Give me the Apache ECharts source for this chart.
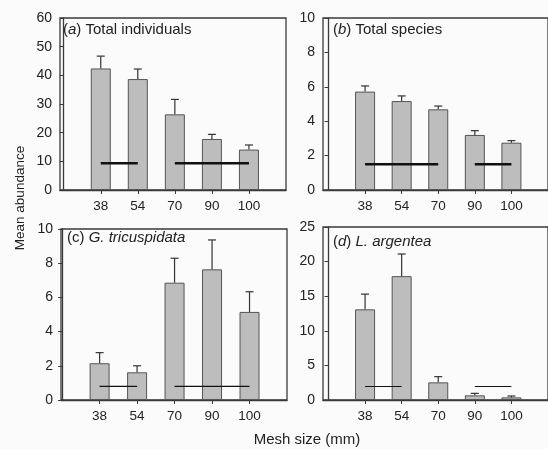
<!DOCTYPE html>
<html>
<head>
<meta charset="utf-8">
<script src="https://cdn.jsdelivr.net/npm/echarts@6/dist/echarts.min.js"></script>
<style>
  html, body { margin: 0; padding: 0; background: #fbfbfb; }
  #chart { width: 548px; height: 449px; }
</style>
</head>
<body>
<div id="chart"></div>
<script>
// Mesh sizes (mm) shown on every x axis
const meshSizes = ['38', '54', '70', '90', '100'];

// Mean abundance and standard error per mesh size
const individualsMean = [42.4, 38.7, 26.4, 17.8, 14.1];
const individualsSE   = [4.3, 3.5, 5.2, 1.6, 1.6];
const speciesMean     = [5.72, 5.17, 4.69, 3.2, 2.75];
const speciesSE       = [0.33, 0.3, 0.19, 0.25, 0.12];
const tricuspidataMean = [2.15, 1.62, 6.86, 7.64, 5.15];
const tricuspidataSE   = [0.62, 0.38, 1.43, 1.72, 1.18];
const argenteaMean    = [13.1, 17.9, 2.55, 0.67, 0.38];
const argenteaSE      = [2.2, 3.2, 0.82, 0.29, 0.2];

// Homogeneous groups: [first mesh index, last mesh index] (1-based) and line level
const individualsGroups = [[1, 2], [3, 5]];
const individualsGroupLevel = 9.3;
const speciesGroups = [[1, 3], [4, 5]];
const speciesGroupLevel = 1.5;
const tricuspidataGroups = [[1, 2], [3, 5]];
const tricuspidataGroupLevel = 0.8;
const argenteaGroups = [[1, 2], [4, 5]];
const argenteaGroupLevel = 1.95;

// Y-axis scales for each panel
const yMax = [60, 10, 10, 25];
const yStep = [10, 2, 2, 5];

const panels = [
  { mean: individualsMean, se: individualsSE, groups: individualsGroups, level: individualsGroupLevel,
    grid: { left: 60, top: 18, width: 226, height: 172 }, xMin: -0.1, xMax: 6, groupWidth: 2.5,
    label: { pre: '(', it: 'a', post: ') Total individuals' }, labelPos: [63, 22] },
  { mean: speciesMean, se: speciesSE, groups: speciesGroups, level: speciesGroupLevel,
    grid: { left: 323, top: 18, width: 230, height: 172 }, xMin: -0.15, xMax: 6, groupWidth: 2.5,
    label: { pre: '(', it: 'b', post: ') Total species' }, labelPos: [333, 22] },
  { mean: tricuspidataMean, se: tricuspidataSE, groups: tricuspidataGroups, level: tricuspidataGroupLevel,
    grid: { left: 61, top: 229, width: 226, height: 171 }, xMin: -0.03, xMax: 6, groupWidth: 1.2,
    label: { pre: '(c) ', it: 'G. tricuspidata', post: '' }, labelPos: [67, 230] },
  { mean: argenteaMean, se: argenteaSE, groups: argenteaGroups, level: argenteaGroupLevel,
    grid: { left: 323, top: 227, width: 230, height: 173 }, xMin: -0.15, xMax: 6, groupWidth: 1.2,
    label: { pre: '(', it: 'd', post: ') ', tail: 'L. argentea' }, labelPos: [333, 234] }
];

const font = 'Liberation Sans, Arial, Helvetica, sans-serif';
const axisColor = '#3a3a3a';
const textColor = '#222';

const grids = [], xAxes = [], yAxes = [], series = [], graphics = [];

panels.forEach((p, i) => {
  grids.push(Object.assign({ show: true, borderColor: axisColor, borderWidth: 1.3,
    backgroundColor: 'transparent' }, p.grid));

  xAxes.push({
    type: 'value', gridIndex: i, min: p.xMin, max: p.xMax,
    axisLine: { show: true, onZero: false, lineStyle: { color: axisColor, width: 1.3 } },
    axisTick: { show: true, customValues: [1, 2, 3, 4, 5], length: 4, inside: false,
      lineStyle: { color: axisColor, width: 1 } },
    axisLabel: { show: true, customValues: [1, 2, 3, 4, 5], margin: 9,
      formatter: v => meshSizes[Math.round(v) - 1] || '',
      fontFamily: font, fontSize: 13.5, color: textColor },
    splitLine: { show: false }
  });

  yAxes.push({
    type: 'value', gridIndex: i, min: 0, max: yMax[i], interval: yStep[i],
    axisLine: { show: true, lineStyle: { color: axisColor, width: 1.3 } },
    axisTick: { show: true, length: 4, lineStyle: { color: axisColor, width: 1 } },
    axisLabel: { margin: 8, fontFamily: font, fontSize: 14, color: textColor },
    splitLine: { show: false }
  });

  // Bars
  series.push({
    type: 'bar', xAxisIndex: i, yAxisIndex: i, barWidth: 20,
    data: p.mean.map((v, k) => [k + 1, v]),
    itemStyle: { color: '#bdbdbd', borderColor: '#555', borderWidth: 1 },
    silent: true, animation: false, z: 2
  });

  // Upper standard-error whiskers
  series.push({
    type: 'custom', xAxisIndex: i, yAxisIndex: i,
    data: p.mean.map((v, k) => [k + 1, v, v + p.se[k]]),
    encode: { x: 0, y: [1, 2] },
    renderItem: (params, api) => {
      const base = api.coord([api.value(0), api.value(1)]);
      const top = api.coord([api.value(0), api.value(2)]);
      const cap = 4;
      const style = { stroke: '#333', lineWidth: 1.2 };
      return {
        type: 'group',
        children: [
          { type: 'line', shape: { x1: base[0], y1: base[1], x2: top[0], y2: top[1] }, style },
          { type: 'line', shape: { x1: top[0] - cap, y1: top[1], x2: top[0] + cap, y2: top[1] }, style }
        ]
      };
    },
    silent: true, animation: false, z: 3
  });

  // Homogeneous-group lines
  series.push({
    type: 'custom', xAxisIndex: i, yAxisIndex: i,
    data: p.groups.map(g => [g[0], g[1], p.level]),
    encode: { x: [0, 1], y: 2 },
    renderItem: (params, api) => {
      const a = api.coord([api.value(0), api.value(2)]);
      const b = api.coord([api.value(1), api.value(2)]);
      return { type: 'line', shape: { x1: a[0], y1: a[1], x2: b[0], y2: b[1] },
        style: { stroke: '#111', lineWidth: p.groupWidth } };
    },
    silent: true, animation: false, z: 4
  });

  // Panel label: plain parts and italic parts
  const L = p.label;
  let text = '{n|' + L.pre + '}{i|' + L.it + '}';
  if (L.post) text += '{n|' + L.post + '}';
  if (L.tail) text += '{i|' + L.tail + '}';
  const rich = {
    n: { fontFamily: font, fontSize: 15, color: textColor },
    i: { fontFamily: font, fontSize: 15, fontStyle: 'italic', color: textColor }
  };
  graphics.push({ type: 'text', left: p.labelPos[0], top: p.labelPos[1], z: 10,
    style: { text, rich, fill: textColor } });
});

// Shared axis titles
graphics.push({
  type: 'text', x: 20, y: 198, rotation: Math.PI / 2, z: 10,
  style: { text: 'Mean abundance', fontFamily: font, fontSize: 13.5, fill: textColor,
    align: 'center', verticalAlign: 'middle' }
});
graphics.push({
  type: 'text', x: 307, y: 440, z: 10,
  style: { text: 'Mesh size (mm)', fontFamily: font, fontSize: 15, fill: textColor,
    align: 'center', verticalAlign: 'middle' }
});

const chart = echarts.init(document.getElementById('chart'), null, { renderer: 'canvas' });
chart.setOption({
  backgroundColor: '#fbfbfb',
  animation: false,
  grid: grids,
  xAxis: xAxes,
  yAxis: yAxes,
  series,
  graphic: graphics
});
</script>
</body>
</html>
